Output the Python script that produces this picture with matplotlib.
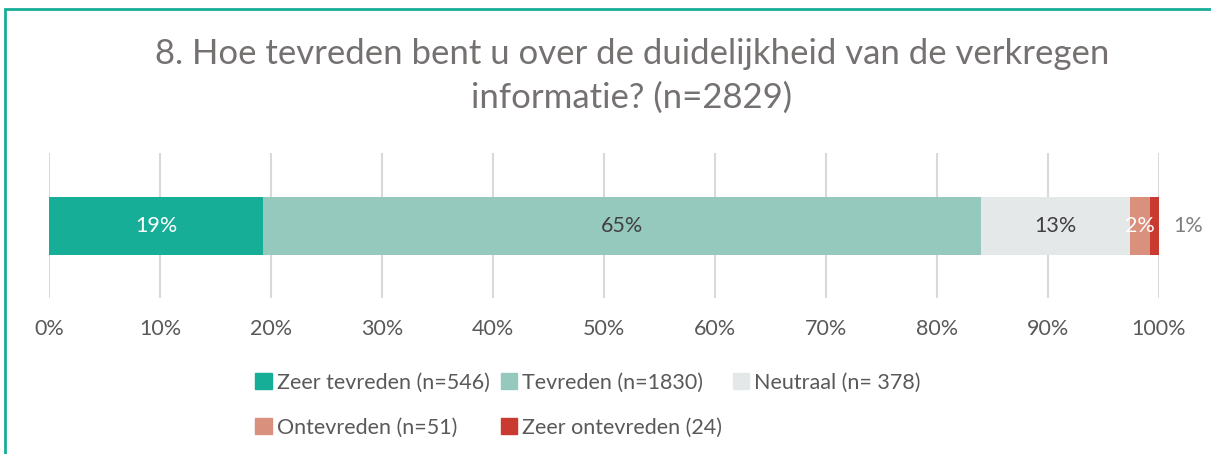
import matplotlib.pyplot as plt
from matplotlib.patches import Rectangle, Patch

plt.rcParams['font.family'] = ['Lato', 'DejaVu Sans']

# === data ===
categories = ['Zeer tevreden (n=546)', 'Tevreden (n=1830)', 'Neutraal (n= 378)',
              'Ontevreden (n=51)', 'Zeer ontevreden (24)']
counts = [546, 1830, 378, 51, 24]
colors = ['#17AE98', '#95C9BE', '#E4E8E8', '#D9907C', '#C93A30']
label_colors = ['white', '#404040', '#404040', 'white', '#7F7F7F']
ticks = [0, 10, 20, 30, 40, 50, 60, 70, 80, 90, 100]

total = sum(counts)
shares = [c / total * 100 for c in counts]

fig = plt.figure(figsize=(12.11, 4.54), dpi=100)
ax = fig.add_axes([49 / 1211, 1 - 298 / 454, 1110 / 1211, 145 / 454])

# border around chart
fig.patches.append(Rectangle((4.5 / 1211, -0.1), 1.2, 1 - 8.5 / 454 + 0.1,
                             transform=fig.transFigure, fill=False,
                             edgecolor='#17AE98', linewidth=2, zorder=10))

left = 0
for i, (s, col) in enumerate(zip(shares, colors)):
    ax.barh(0, s, left=left, height=0.8, color=col, zorder=2)
    txt = f'{round(s)}%'
    if i == len(shares) - 1:
        ax.text(102.6, 0, txt, ha='center', va='center', fontsize=15.5,
                color=label_colors[i])
    else:
        ax.text(left + s / 2, 0, txt, ha='center', va='center', fontsize=15.5,
                color=label_colors[i])
    left += s

ax.set_xlim(0, 100)
ax.set_ylim(-1, 1)
ax.set_xticks(ticks)
ax.set_xticklabels([f'{t}%' for t in ticks])
ax.set_yticks([])
ax.grid(axis='x', color='#D9D9D9', linewidth=1.5, zorder=0)
for sp in ax.spines.values():
    sp.set_visible(False)
ax.tick_params(axis='x', length=0, pad=15, labelsize=15.5, labelcolor='#595959')

fig.text(632 / 1211, 1 - 76 / 454,
         '8. Hoe tevreden bent u over de duidelijkheid van de verkregen\ninformatie? (n=2829)',
         ha='center', va='center', fontsize=25, color='#767171', linespacing=1.45)

handles = [Patch(color=c) for c in colors]
order = [0, 3, 1, 4, 2]
fig.legend([handles[i] for i in order], [categories[i] for i in order],
           ncol=3, loc='center left', bbox_to_anchor=(236 / 1211, 1 - 405 / 454),
           frameon=False, fontsize=15.5, labelcolor='#595959',
           handlelength=0.75, handleheight=0.75, handletextpad=0.25,
           columnspacing=0.5, labelspacing=1.15)

fig.savefig('out.png', dpi=100)
